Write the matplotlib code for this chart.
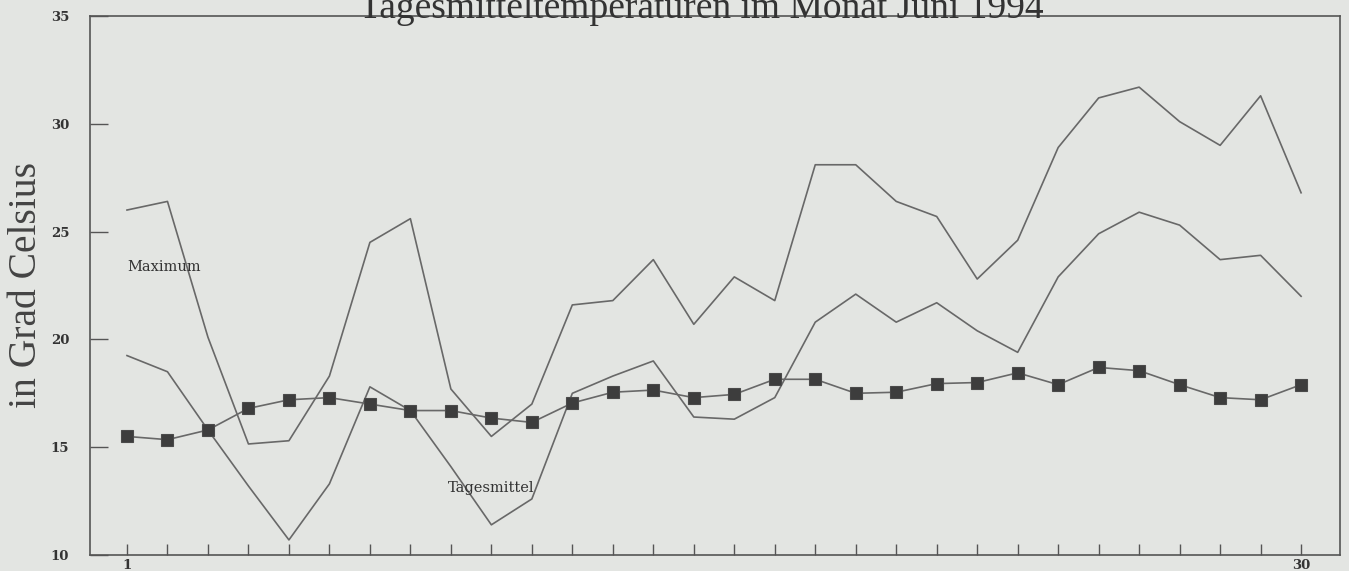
import matplotlib
matplotlib.use("Agg")
import matplotlib.pyplot as plt
import numpy as np

days = list(range(1, 31))
maximum = [26.0, 26.4, 20.1, 15.15, 15.3, 18.3, 24.5, 25.6, 17.7, 15.5,
           17.0, 21.6, 21.8, 23.7, 20.7, 22.9, 21.8, 28.1, 28.1, 26.4,
           25.7, 22.8, 24.6, 28.9, 31.2, 31.7, 30.1, 29.0, 31.3, 26.8]
tagesmittel = [19.25, 18.5, 15.8, 13.2, 10.7, 13.3, 17.8, 16.7, 14.1, 11.4,
               12.6, 17.5, 18.3, 19.0, 16.4, 16.3, 17.3, 20.8, 22.1, 20.8,
               21.7, 20.4, 19.4, 22.9, 24.9, 25.9, 25.3, 23.7, 23.9, 22.0]
langjaehrig = [15.5, 15.35, 15.8, 16.8, 17.2, 17.3, 17.0, 16.7, 16.7, 16.35,
               16.15, 17.05, 17.55, 17.65, 17.3, 17.45, 18.15, 18.15, 17.5, 17.55,
               17.95, 18.0, 18.45, 17.9, 18.7, 18.55, 17.9, 17.3, 17.2, 17.9]
yticks = [10, 15, 20, 25, 30, 35]
xticklabels = {1: "1", 30: "30"}
title = "Tagesmitteltemperaturen im Monat Juni 1994"
ylabel = "in Grad Celsius"

bg = "#e3e5e2"
lc = "#686868"
serif = ["Liberation Serif", "DejaVu Serif"]
wide = ["DejaVu Serif"]

fig = plt.figure(figsize=(13.49, 5.71), dpi=100, facecolor=bg)
ax = fig.add_axes([0.0667, 0.028, 0.9266, 0.944], facecolor=bg)

ax.plot(days, maximum, color=lc, lw=1.2)
ax.plot(days, tagesmittel, color=lc, lw=1.2)
ax.plot(days, langjaehrig, color=lc, lw=1.2, marker="s", ms=8.5,
        mfc="#3d3d3d", mec="#4a4a4a", mew=0.8)

ax.text(1.0, 23.35, "Maximum", family=wide, fontsize=10.5, color="#333333",
        va="center", ha="left")
ax.text(8.93, 13.1, "Tagesmittel", family=wide, fontsize=10.5, color="#333333",
        va="center", ha="left")

ax.set_xlim(0.086, 30.96)
ax.set_ylim(10, 35)
ax.set_xticks(days)
ax.set_xticklabels([xticklabels.get(d, "") for d in days])
ax.set_yticks(yticks)
ax.set_yticklabels([str(v) for v in yticks])
ax.tick_params(axis="x", direction="in", length=8, width=1, colors="#555555",
               labelsize=9.5, pad=3, labelcolor="#333333")
ax.tick_params(axis="y", direction="in", length=13, width=1, colors="#555555",
               labelsize=9.5, pad=15, labelcolor="#333333")
for lab in ax.get_xticklabels() + ax.get_yticklabels():
    lab.set_family(wide)
    lab.set_fontweight("bold")
for s in ax.spines.values():
    s.set_color("#555555")
    s.set_linewidth(1.2)

fig.text(27 / 1349, 1 - 285 / 571, ylabel, family=serif, fontsize=28.5,
         color="#444444", rotation=90, ha="center", va="center")
fig.text(0.52, 0.985, title, family=serif, fontsize=27, color="#333333",
         ha="center", va="center")

fig.savefig("out.png", dpi=100, facecolor=bg)
